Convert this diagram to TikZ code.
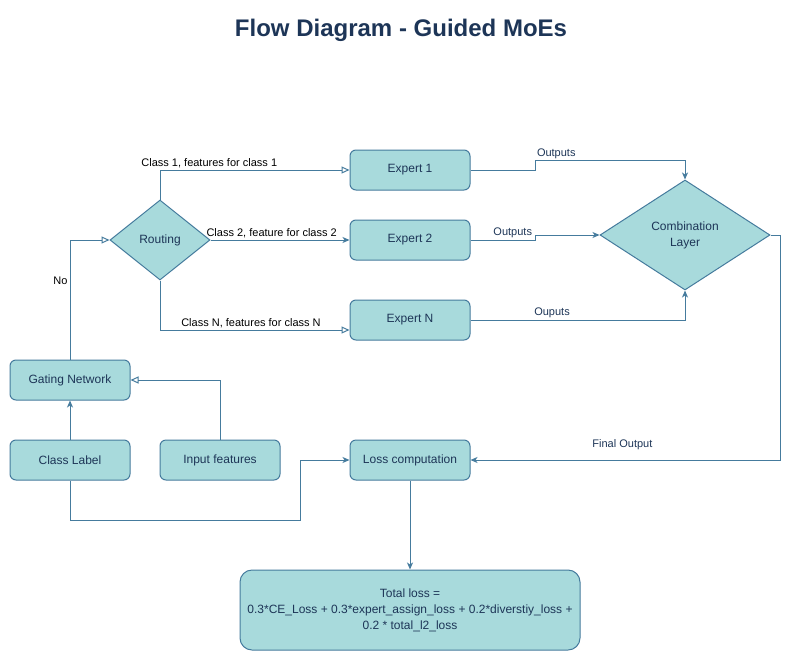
\documentclass[tikz,border=0pt]{standalone}
\usepackage{fontspec}
\setmainfont{Liberation Sans}
\usetikzlibrary{positioning,arrows.meta,shapes.geometric}
\definecolor{boxfill}{HTML}{A8DADC}
\definecolor{boxline}{HTML}{457B9D}
\definecolor{navy}{HTML}{1D3557}

\begin{document}
\begin{tikzpicture}[
  x=1pt, y=-1pt,
  node distance=39pt and 29pt,
  every node/.style={font=\fontsize{12}{16}\selectfont, text=navy},
  blk/.style={draw=boxline, line width=1pt, rounded corners=6pt, fill=boxfill,
              minimum width=120pt, minimum height=40pt, inner sep=0pt},
  bigblk/.style={blk, rounded corners=12pt, minimum width=340pt,
                 minimum height=80pt, align=center},
  dec/.style={diamond, draw=boxline, line width=1pt, fill=boxfill,
              inner sep=0pt, align=center},
  hdr/.style={font=\fontsize{24}{28}\selectfont\bfseries},
  lbl/.style={font=\fontsize{11}{13}\selectfont, inner sep=2pt},
  arr/.style={-{Stealth[length=7pt,width=6pt,inset=2pt]}, line width=1pt, draw=boxline},
  oarr/.style={-{Triangle[open,length=8pt,width=7pt]}, line width=1pt, draw=boxline}
]
\useasboundingbox (0,0) rectangle (799,661);
\node[hdr] (title) at (401,30) {Flow Diagram - Guided MoEs};
\node[blk] (exp2) at (410,240) {Expert 2};
\node[blk, above=29pt of exp2] (exp1) {Expert 1};
\node[blk, below=39pt of exp2] (expN) {Expert N};
\node[dec, minimum width=100pt, minimum height=80pt] (rout) at (160,240) {Routing};
\node[dec, minimum width=170pt, minimum height=110pt] (comb) at (685,235)
  {Combination\\Layer};
\node[blk] (gate) at (70,380) {Gating Network};
\node[blk, below=of gate] (cls) {Class Label};
\node[blk, right=of cls] (feat) {Input features};
\node[blk, right=69pt of feat] (loss) {Loss computation};
\node[bigblk, below=89pt of loss] (total)
  {Total loss =\\0.3*CE\_Loss + 0.3*expert\_assign\_loss + 0.2*diverstiy\_loss +\\0.2 * total\_l2\_loss};
\draw[oarr] (rout.north) |- node[lbl, above, pos=.63, text=black]
  {Class 1, features for class 1} (exp1.west);
\draw[arr] (rout.east) -- node[lbl, above, pos=.44, text=black]
  {Class 2, feature for class 2} (exp2.west);
\draw[oarr] (rout.south) |- node[lbl, above, pos=.74, text=black]
  {Class N, features for class N} ([yshift=-10pt]expN.west);
\draw[arr] (exp1.east) -- ++(65,0) -- ++(0,-10) node[lbl, above right, inner sep=1pt]
  {Outputs} -| (comb.north);
\draw[arr] (exp2.east) -- node[lbl, above, pos=.65] {Outputs} ++(65,0) |- (comb.west);
\draw[arr] (expN.east) -| node[lbl, above, pos=.19] {Ouputs} (comb.south);
\draw[arr] (comb.east) -- ++(10,0) |- node[lbl, above=8pt, pos=.755]
  {Final Output} (loss.east);
\draw[oarr] (gate.north) |- node[lbl, left, pos=.33, text=black] {No} (rout.west);
\draw[oarr] (feat.north) |- (gate.east);
\draw[arr] (cls.north) -- (gate.south);
\draw[arr] (cls.south) |- ++(230,40) |- (loss.west);
\draw[arr] (loss.south) -- (total.north);
\end{tikzpicture}
\end{document}
